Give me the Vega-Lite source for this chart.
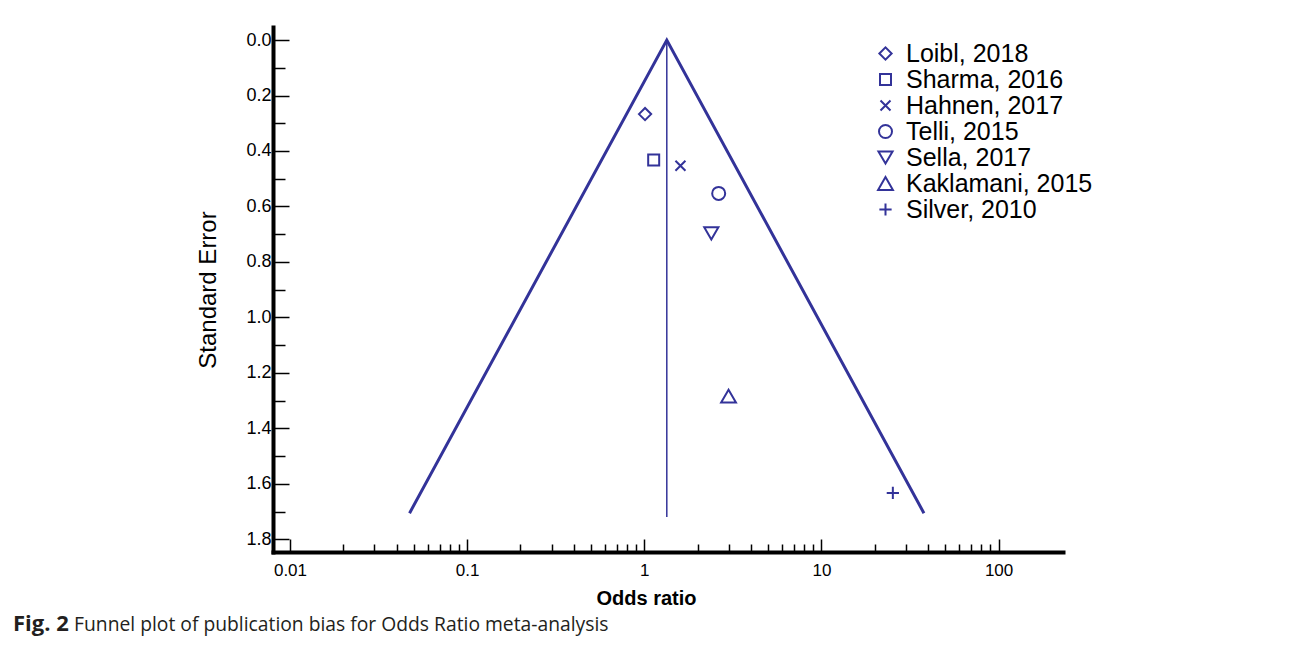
{
  "$schema": "https://vega.github.io/schema/vega-lite/v6.json",
  "width": 790,
  "height": 525,
  "autosize": "none",
  "padding": {"left": 273, "top": 27, "right": 232, "bottom": 93},
  "background": "white",
  "config": {"view": {"stroke": null}},
  "title": {
    "text": "Fig. 2",
    "subtitle": "\u200b\u2003\u2003\u2003\u2006Funnel plot of publication bias for Odds Ratio meta-analysis",
    "orient": "bottom",
    "anchor": "start",
    "frame": "group",
    "dx": -260,
    "offset": 6,
    "font": "Open Sans",
    "fontSize": 22,
    "fontWeight": "bold",
    "color": "#231f20",
    "subtitleFont": "Open Sans",
    "subtitleFontSize": 19.3,
    "subtitleFontWeight": "normal",
    "subtitleColor": "#231f20",
    "subtitlePadding": -20
  },
  "datasets": {
    "studies": [
      {"study": "Loibl, 2018", "or": 1.01, "se": 0.267},
      {"study": "Sharma, 2016", "or": 1.13, "se": 0.433},
      {"study": "Hahnen, 2017", "or": 1.60, "se": 0.453},
      {"study": "Telli, 2015", "or": 2.63, "se": 0.553},
      {"study": "Sella, 2017", "or": 2.39, "se": 0.697},
      {"study": "Kaklamani, 2015", "or": 2.99, "se": 1.284},
      {"study": "Silver, 2010", "or": 25.3, "se": 1.633}
    ],
    "funnel": [
      {"or": 0.0473, "se": 1.706, "ord": 1},
      {"or": 1.34, "se": 0, "ord": 2},
      {"or": 37.9, "se": 1.706, "ord": 3}
    ],
    "pooled": [
      {"or": 1.34, "se": 0, "se2": 1.72}
    ]
  },
  "encoding": {
    "x": {
      "field": "or",
      "type": "quantitative",
      "scale": {"type": "log", "domain": [0.00802, 231], "nice": false, "zero": false},
      "axis": {
        "title": "Odds ratio",
        "values": [0.01, 0.02, 0.03, 0.04, 0.05, 0.06, 0.07, 0.08, 0.09, 0.1, 0.2, 0.3, 0.4, 0.5, 0.6, 0.7, 0.8, 0.9, 1, 2, 3, 4, 5, 6, 7, 8, 9, 10, 20, 30, 40, 50, 60, 70, 80, 90, 100],
        "labelExpr": "indexof([0.01, 0.1, 1, 10, 100], datum.value) >= 0 ? toString(datum.value) : ''",
        "tickSize": {"condition": {"test": "indexof([0.01, 0.1, 1, 10, 100], datum.value) >= 0", "value": -13}, "value": -8},
        "labelPadding": 23,
        "labelFlush": false,
        "labelOverlap": false,
        "grid": false,
        "domainWidth": 4,
        "domainColor": "black",
        "domainCap": "square",
        "tickColor": "black",
        "tickWidth": 1.5,
        "labelFont": "Liberation Sans",
        "labelFontSize": 17,
        "labelColor": "black",
        "titleFont": "Liberation Sans",
        "titleFontSize": 20,
        "titleFontWeight": "bold",
        "titleColor": "black",
        "titlePadding": 5,
        "titleX": 373
      }
    },
    "y": {
      "field": "se",
      "type": "quantitative",
      "scale": {"domain": [-0.047, 1.846], "reverse": true, "nice": false, "zero": false},
      "axis": {
        "title": "Standard Error",
        "values": [0, 0.1, 0.2, 0.3, 0.4, 0.5, 0.6, 0.7, 0.8, 0.9, 1.0, 1.1, 1.2, 1.3, 1.4, 1.5, 1.6, 1.7, 1.8],
        "labelExpr": "round(datum.value * 10) % 2 == 0 ? format(datum.value, '.1f') : ''",
        "tickSize": {"condition": {"test": "round(datum.value * 10) % 2 == 0", "value": -16}, "value": -12},
        "labelPadding": 18,
        "labelFlush": false,
        "labelOverlap": false,
        "grid": false,
        "domainWidth": 4,
        "domainColor": "black",
        "domainCap": "square",
        "tickColor": "black",
        "tickWidth": 1.5,
        "labelFont": "Liberation Sans",
        "labelFontSize": 18,
        "labelColor": "black",
        "titleFont": "Liberation Sans",
        "titleFontSize": 24,
        "titleFontWeight": "normal",
        "titleColor": "black",
        "titlePadding": 25
      }
    }
  },
  "layer": [
    {
      "data": {"name": "funnel"},
      "mark": {"type": "line", "color": "#333399", "strokeWidth": 3},
      "encoding": {"order": {"field": "ord", "type": "quantitative"}}
    },
    {
      "data": {"name": "pooled"},
      "mark": {"type": "rule", "color": "#333399", "strokeWidth": 1.5},
      "encoding": {"y2": {"field": "se2"}}
    },
    {
      "data": {"name": "studies"},
      "mark": {"type": "point", "filled": false, "color": "#333399", "strokeWidth": 2, "opacity": 1},
      "encoding": {
        "shape": {
          "field": "study",
          "type": "nominal",
          "scale": {
            "domain": ["Loibl, 2018", "Sharma, 2016", "Hahnen, 2017", "Telli, 2015", "Sella, 2017", "Kaklamani, 2015", "Silver, 2010"],
            "range": ["diamond", "square", "M-1,-1L1,1M1,-1L-1,1", "circle", "triangle-down", "triangle-up", "M0,-1L0,1M-1,0L1,0"]
          },
          "legend": {
            "title": null,
            "orient": "none",
            "legendX": 600,
            "legendY": 14,
            "padding": 0,
            "labelFont": "Liberation Sans",
            "labelFontSize": 25,
            "labelColor": "black",
            "labelOffset": 8,
            "labelLimit": 400,
            "rowPadding": 0,
            "symbolStrokeWidth": 2
          }
        },
        "size": {
          "field": "study",
          "type": "nominal",
          "scale": {
            "type": "ordinal",
            "domain": ["Loibl, 2018", "Sharma, 2016", "Hahnen, 2017", "Telli, 2015", "Sella, 2017", "Kaklamani, 2015", "Silver, 2010"],
            "range": [150, 121, 100, 169, 200, 220, 150]
          },
          "legend": {
            "title": null,
            "orient": "none",
            "legendX": 600,
            "legendY": 14,
            "padding": 0,
            "labelFont": "Liberation Sans",
            "labelFontSize": 25,
            "labelColor": "black",
            "labelOffset": 8,
            "labelLimit": 400,
            "rowPadding": 0,
            "symbolStrokeWidth": 2
          }
        }
      }
    }
  ]
}
